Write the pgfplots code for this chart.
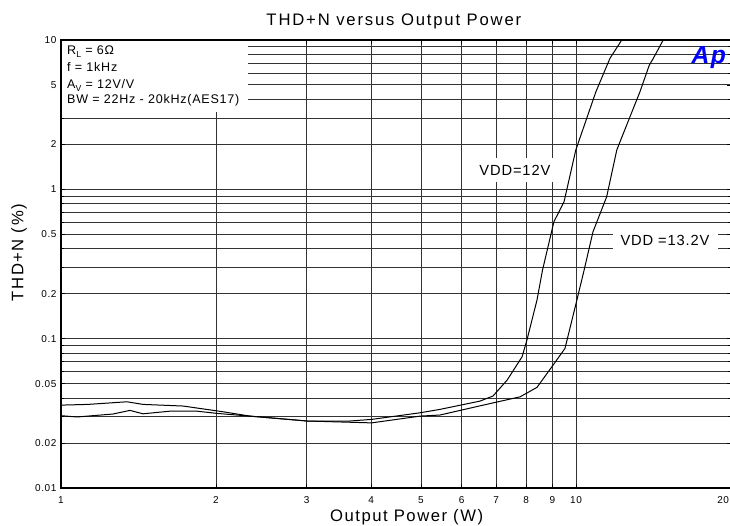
\documentclass[border=0pt]{standalone}
\usepackage{fontspec}
\setmainfont{Liberation Sans}[LetterSpace=6]
\newfontfamily\bigfont{Liberation Sans}[LetterSpace=9]
\newfontfamily\titlefont{Liberation Sans}[LetterSpace=11]
\usepackage{pgfplots}
\pgfplotsset{compat=1.18}

\definecolor{apblue}{RGB}{0,0,255}
\colorlet{gridcol}{black!80}

\begin{document}
\begin{tikzpicture}
\begin{axis}[
  at={(0,0)}, anchor=south west,
  scale only axis,
  width=502.5pt, height=336pt,
  xmode=log, ymode=log,
  xmin=1, xmax=20, ymin=0.01, ymax=10,
  xtick={1,2,3,4,5,6,7,8,9,10,20},
  xticklabels={1,2,3,4,5,6,7,8,9,10,\makebox[0pt][r]{20\hspace{1.5pt}}},
  minor xtick={1},
  ytick={0.01,0.02,0.05,0.1,0.2,0.5,1,2,5,10},
  yticklabels={0.01,0.02,0.05,0.1,0.2,0.5,1,2,5,10},
  minor ytick={0.03,0.04,0.06,0.07,0.08,0.09,0.3,0.4,0.6,0.7,0.8,0.9,3,4,6,7,8,9},
  grid=both,
  major grid style={gridcol, line width=0.7pt},
  minor grid style={gridcol, line width=0.7pt},
  axis line style={black, line width=1.2pt},
  tick style={black, line width=0.6pt},
  major tick length=3pt, minor tick length=2pt,
  tick align=inside,
  xticklabel style={font=\fontsize{7.5}{9}\selectfont, anchor=base, yshift=-11.25pt, inner sep=0pt},
  yticklabel style={font=\fontsize{7.5}{9}\selectfont, anchor=east, xshift=-3.2pt, inner sep=0pt},
  clip=false,
]
% VDD = 12V
\addplot[black, line width=0.75pt] coordinates {
  (1.0,0.0359) (1.128,0.0363) (1.343,0.0378) (1.443,0.0363) (1.726,0.0354)
  (2.064,0.0324) (2.328,0.0303) (3.004,0.0281) (3.64,0.0281) (4.01,0.0288)
  (4.98,0.0319) (5.44,0.0336) (6.51,0.0382) (6.90,0.0413) (7.35,0.0528)
  (7.86,0.0757) (8.03,0.098) (8.40,0.1815) (8.61,0.288) (9.06,0.607)
  (9.48,0.826) (9.99,1.833) (10.93,4.5) (11.64,7.54) (12.27,10)
};
% VDD = 13.2V
\addplot[black, line width=0.75pt] coordinates {
  (1.0,0.0305) (1.074,0.0299) (1.262,0.0313) (1.361,0.0331) (1.443,0.0314)
  (1.628,0.0327) (1.837,0.0327) (2.009,0.0316) (2.328,0.0303) (3.004,0.0281)
  (4.01,0.0273) (4.98,0.0303) (5.44,0.0308) (6.51,0.0355) (7.79,0.0408)
  (8.40,0.0472) (8.98,0.0649) (9.52,0.0861) (10.04,0.1815) (10.37,0.288)
  (10.79,0.52) (11.47,0.892) (12.0,1.833) (12.14,2.03) (13.31,4.5)
  (13.88,6.80) (14.13,7.54) (14.77,10)
};

% conditions box
\fill[white] (axis cs:1,3.30) rectangle (axis cs:2.307,10);
\begin{scope}[every node/.style={anchor=base west, inner sep=0pt, font=\fontsize{9.4}{11}\selectfont}]
  \node at (axis cs:1.027,8.02) {R\raisebox{-0.45ex}{\fontsize{6.5}{7}\selectfont L} = 6Ω};
  \node at (axis cs:1.027,6.20) {f = 1kHz};
  \node at (axis cs:1.027,4.70) {A\raisebox{-0.45ex}{\fontsize{6.5}{7}\selectfont V} = 12V/V};
  \node at (axis cs:1.027,3.73) {BW = 22Hz - 20kHz(AES17)};
\end{scope}

\node[fill=white, inner xsep=6pt, inner ysep=5pt, font=\fontsize{11}{13}\selectfont] at (axis cs:7.61,1.346) {VDD=12V};
\node[fill=white, inner xsep=6pt, inner ysep=2.8pt, font=\fontsize{11}{13}\selectfont] at (axis cs:14.89,0.4575) {VDD =13.2V};

% Ap logo
\node[anchor=base west, inner sep=0pt, text=apblue, font=\fontsize{18.5}{19}\selectfont\bfseries\itshape] at (axis cs:16.75,6.98) {Ap};

\draw[black, line width=1.2pt] (rel axis cs:0,0) rectangle (rel axis cs:1,1);

% title and axis labels
\node[anchor=base, inner sep=0pt, font=\titlefont\fontsize{12.5}{14}\selectfont] at ([yshift=11.25pt]axis cs:4.43,10) {THD+N versus Output Power};
\node[anchor=base, inner sep=0pt, font=\bigfont\fontsize{12.5}{14}\selectfont] at ([yshift=-25.3pt]axis cs:4.69,0.01) {Output Power (W)};
\node[anchor=base, rotate=90, inner sep=0pt, font=\bigfont\fontsize{12.5}{14}\selectfont] at ([xshift=-28.3pt]axis cs:1,0.377) {THD+N (\%)};
\end{axis}
\pgfresetboundingbox
\useasboundingbox (-45.75pt,-27.75pt) rectangle (501.75pt,366pt);
\end{tikzpicture}
\end{document}
